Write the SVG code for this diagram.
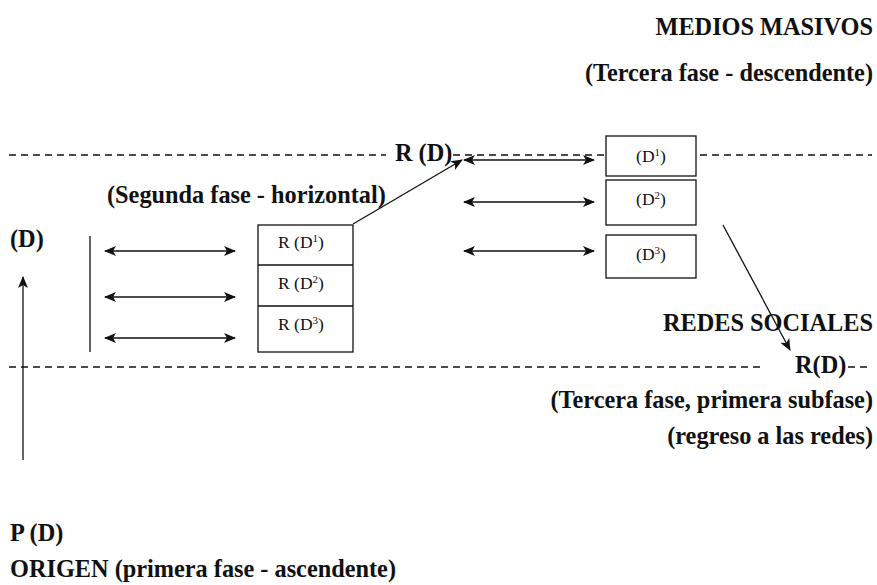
<svg xmlns="http://www.w3.org/2000/svg" width="877" height="585" viewBox="0 0 877 585">
<defs>
<style>
.t{font-weight:bold;font-size:24.3px;fill:#111}
.b{font-size:17.5px;fill:#111}
.ln{stroke:#111;stroke-width:1.3;fill:none}
.dash{stroke:#111;stroke-width:1.3;stroke-dasharray:7 5;fill:none}
.box{fill:#fff;stroke:#111;stroke-width:1.3}
</style>
<marker id="ah" viewBox="0 0 12 10" refX="11" refY="5" markerWidth="12" markerHeight="10" markerUnits="userSpaceOnUse" orient="auto-start-reverse">
<path d="M0,0 L12,5 L0,10 L3,5 Z" fill="#111"/>
</marker>
</defs>
<rect width="877" height="585" fill="#fff"/>
<g id="levels">
<line class="dash" x1="9" y1="155" x2="386" y2="155"/>
<line class="dash" x1="453" y1="155" x2="606" y2="155"/>
<line class="dash" x1="700" y1="155" x2="872" y2="155"/>
<line class="dash" x1="9" y1="367" x2="762" y2="367"/>
<line class="dash" x1="848" y1="367" x2="872" y2="367"/>
</g>
<g id="labels" font-family="Liberation Serif, Tinos, DejaVu Serif, Noto Serif, serif">
<text class="t" x="873" y="35" text-anchor="end">MEDIOS MASIVOS</text>
<text class="t" x="873" y="81" text-anchor="end">(Tercera fase - descendente)</text>
<text class="t" x="395" y="161">R (D)</text>
<text class="t" x="107" y="203">(Segunda fase - horizontal)</text>
<text class="t" x="10" y="247">(D)</text>
<text class="t" x="873" y="331" text-anchor="end">REDES SOCIALES</text>
<text class="t" x="795" y="373">R(D)</text>
<text class="t" x="873" y="408" text-anchor="end">(Tercera fase, primera subfase)</text>
<text class="t" x="873" y="444" text-anchor="end">(regreso a las redes)</text>
<text class="t" x="10" y="541">P (D)</text>
<text class="t" x="10" y="577">ORIGEN (primera fase - ascendente)</text>
</g>
<g id="node-left-stack" font-family="Liberation Serif, Tinos, DejaVu Serif, Noto Serif, serif">
<rect class="box" x="258" y="225" width="95" height="127"/>
<line class="ln" x1="258" y1="265" x2="353" y2="265"/>
<line class="ln" x1="258" y1="306" x2="353" y2="306"/>
<text class="b" x="278" y="248">R (D<tspan font-size="11" dy="-6">1</tspan><tspan dy="6">)</tspan></text>
<text class="b" x="278" y="289">R (D<tspan font-size="11" dy="-6">2</tspan><tspan dy="6">)</tspan></text>
<text class="b" x="278" y="330">R (D<tspan font-size="11" dy="-6">3</tspan><tspan dy="6">)</tspan></text>
</g>
<g id="node-d1" font-family="Liberation Serif, Tinos, DejaVu Serif, Noto Serif, serif">
<rect class="box" x="606" y="136" width="90" height="40"/>
<text class="b" x="651" y="162" text-anchor="middle">(D<tspan font-size="11" dy="-6">1</tspan><tspan dy="6">)</tspan></text>
</g>
<g id="node-d2" font-family="Liberation Serif, Tinos, DejaVu Serif, Noto Serif, serif">
<rect class="box" x="606" y="180" width="90" height="45"/>
<text class="b" x="651" y="205" text-anchor="middle">(D<tspan font-size="11" dy="-6">2</tspan><tspan dy="6">)</tspan></text>
</g>
<g id="node-d3" font-family="Liberation Serif, Tinos, DejaVu Serif, Noto Serif, serif">
<rect class="box" x="606" y="235" width="90" height="43"/>
<text class="b" x="651" y="260" text-anchor="middle">(D<tspan font-size="11" dy="-6">3</tspan><tspan dy="6">)</tspan></text>
</g>
<g id="connectors">
<line class="ln" x1="23" y1="460" x2="23" y2="277" marker-end="url(#ah)"/>
<line class="ln" x1="90" y1="236" x2="90" y2="352"/>
<line class="ln" x1="105" y1="251" x2="235" y2="251" marker-start="url(#ah)" marker-end="url(#ah)"/>
<line class="ln" x1="105" y1="297" x2="235" y2="297" marker-start="url(#ah)" marker-end="url(#ah)"/>
<line class="ln" x1="105" y1="338" x2="235" y2="338" marker-start="url(#ah)" marker-end="url(#ah)"/>
<line class="ln" x1="353" y1="224" x2="462" y2="160" marker-end="url(#ah)"/>
<line class="ln" x1="464" y1="160" x2="594" y2="160" marker-start="url(#ah)" marker-end="url(#ah)"/>
<line class="ln" x1="464" y1="202" x2="594" y2="202" marker-start="url(#ah)" marker-end="url(#ah)"/>
<line class="ln" x1="464" y1="251" x2="594" y2="251" marker-start="url(#ah)" marker-end="url(#ah)"/>
<line class="ln" x1="723" y1="225" x2="790" y2="350" marker-end="url(#ah)"/>
</g>
</svg>
